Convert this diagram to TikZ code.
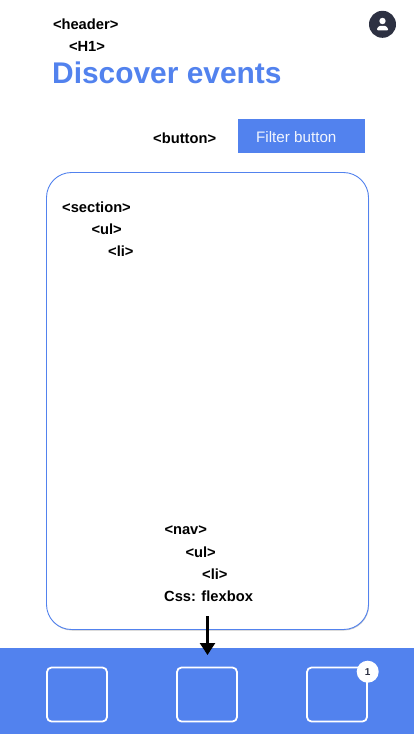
\documentclass[tikz,border=0pt]{standalone}
\usepackage{fontspec}
\setmainfont{Liberation Sans}
\usetikzlibrary{arrows.meta,shadows}
\definecolor{brandblue}{HTML}{5282EE}
\definecolor{darkslate}{HTML}{2D3142}
\tikzset{
    tag/.style={font=\fontsize{14.7}{17}\selectfont\bfseries, anchor=west, inner sep=0pt},
    tabbox/.style={draw=white, line width=1.8pt, rounded corners=4.5pt, minimum width=60pt, minimum height=54pt, inner sep=0pt},
}

\begin{document}
\begin{tikzpicture}[x=1pt,y=-1pt]
    \useasboundingbox (0,0) rectangle (414,734);
    % Header
    \node[tag] (header) at (52.8,24.5) {<header>};
    \node[tag] (hone) at (68.8,46.5) {<H1>};
    \node[font=\fontsize{29.9}{34}\selectfont\bfseries, text=brandblue, anchor=west, inner sep=0pt] (title) at (52,73) {Discover events};
    \node[circle, fill=darkslate, minimum size=27pt, inner sep=0pt] (avatar) at (382.5,24.3) {};
    \fill[white] (382.5,21) circle (3.2);
    \fill[white, rounded corners=0.8pt] (377,30.3) -- (377,28.5) -- (379.5,25.8) -- (385.5,25.8) -- (388,28.5) -- (388,30.3) -- cycle;
    % Button
    \node[tag] (buttontag) at (153,138.5) {<button>};
    \node[fill=brandblue, minimum width=127pt, minimum height=34pt, inner sep=0pt] (filter) at (301.5,136) {};
    \node[text=white!92!brandblue, font=\fontsize{15.2}{18}\selectfont, anchor=west, inner sep=0pt] (filterlabel) at (256,137) {Filter button};
    % Card
    \node[draw=brandblue, fill=white, line width=0.9pt, rounded corners=25pt, minimum width=322pt, minimum height=457pt, inner sep=0pt,
        drop shadow={shadow xshift=0.5pt, shadow yshift=-1pt, opacity=0.22, fill=black}] (card) at (207.5,401) {};
    \node[tag] (section) at (62,207.5) {<section>};
    \node[tag] (ulone) at (91.3,229.5) {<ul>};
    \node[tag] (lione) at (108,251.5) {<li>};
    \node[tag] (nav) at (164.3,530.5) {<nav>};
    \node[tag] (ultwo) at (185.3,552.5) {<ul>};
    \node[tag] (litwo) at (202,574.5) {<li>};
    \node[tag] (css) at (164,596) {Css: flexbox};
    % Bottom bar
    \fill[brandblue] (0,648) rectangle (414,734);
    \foreach \name/\x in {tabone/77,tabtwo/207,tabthree/337} {
        \node[tabbox] (\name) at (\x,694.5) {};
    }
    \node[circle, fill=white, minimum size=22pt, inner sep=0pt, text=darkslate, font=\fontsize{10}{12}\selectfont\bfseries] (badge) at (367.7,671.7) {1};
    % Arrow
    \coordinate (arrowstart) at (207.5,616);
    \coordinate (arrowend) at (207.5,655);
    \draw[line width=2.4pt, -{Triangle[length=12pt,width=15pt]}] (arrowstart) -- (arrowend);
\end{tikzpicture}
\end{document}
